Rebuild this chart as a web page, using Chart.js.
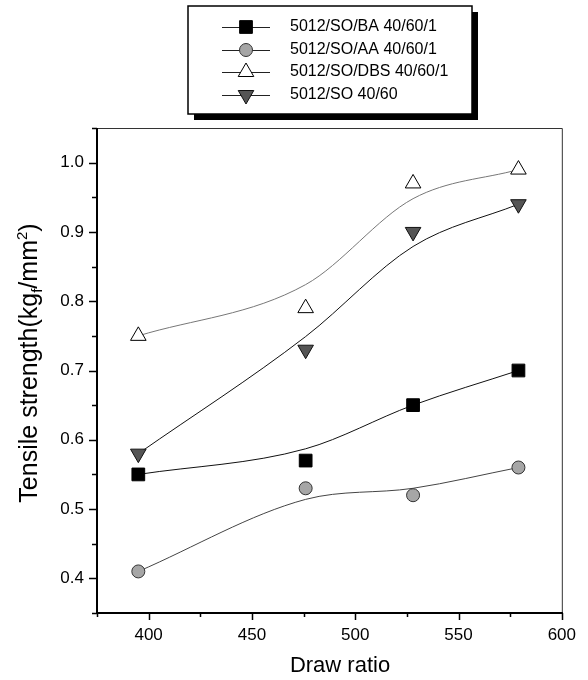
<!DOCTYPE html>
<html>
<head>
<meta charset="utf-8">
<script src="https://cdn.jsdelivr.net/npm/chart.js@4/dist/chart.umd.min.js"></script>
<style>
  html, body { margin: 0; padding: 0; background: #fff; }
  #wrap { width: 588px; height: 680px; position: relative; }
</style>
</head>
<body>
<div id="wrap"><canvas id="chart"></canvas></div>
<script>
// draw ratio of the four samples
const drawRatio = [395, 476, 528, 579];

// measured tensile strength (kgf/mm2)
const baValues  = [0.55, 0.57, 0.65, 0.70];
const aaValues  = [0.41, 0.53, 0.52, 0.56];
const dbsValues = [0.75, 0.79, 0.97, 0.99];
const soValues  = [0.58, 0.73, 0.90, 0.94];

// fitted curves at the same draw ratios
const baFit  = [0.55, 0.587, 0.65, 0.70];
const aaFit  = [0.41, 0.514, 0.53, 0.56];
const dbsFit = [0.75, 0.824, 0.948, 0.99];
const soFit  = [0.58, 0.749, 0.879, 0.94];

const seriesLabels = ['5012/SO/BA 40/60/1', '5012/SO/AA 40/60/1', '5012/SO/DBS 40/60/1', '5012/SO 40/60'];
const xTickLabels = [400, 450, 500, 550, 600];
const yTickLabels = [0.4, 0.5, 0.6, 0.7, 0.8, 0.9, 1.0];

const FONT = '"Liberation Sans", Arial, sans-serif';

const toPts = (ys) => drawRatio.map((x, i) => ({ x: x, y: ys[i] }));

const markers = [
    { style: 'rect',     rot: 0,   r: 9,   fill: '#000000', stroke: '#000000' },
    { style: 'circle',   rot: 0,   r: 6.5, fill: '#a6a6a6', stroke: '#333333' },
    { style: 'triangle', rot: 0,   r: 9,   fill: '#ffffff', stroke: '#000000' },
    { style: 'triangle', rot: 180, r: 9,   fill: '#555555', stroke: '#111111' }
];
const fitColors = ['#111111', '#444444', '#777777', '#111111'];
const values = [baValues, aaValues, dbsValues, soValues];
const fits = [baFit, aaFit, dbsFit, soFit];

let datasets = [];
values.forEach((v, i) => {
    const m = markers[i];
    datasets.push({
        label: seriesLabels[i],
        data: toPts(v),
        showLine: false,
        pointStyle: m.style,
        rotation: m.rot,
        pointRadius: m.r,
        pointBackgroundColor: m.fill,
        pointBorderColor: m.stroke,
        pointBorderWidth: 1,
        order: 0
    });
});
fits.forEach((f, i) => {
    datasets.push({
        label: seriesLabels[i] + ' fit',
        data: toPts(f),
        showLine: true,
        pointRadius: 0,
        borderColor: fitColors[i],
        borderWidth: 1,
        cubicInterpolationMode: 'monotone',
        order: 1
    });
});

function drawMarker(ctx, m, x, y) {
    ctx.save();
    ctx.fillStyle = m.fill;
    ctx.strokeStyle = m.stroke;
    ctx.lineWidth = 1;
    ctx.beginPath();
    if (m.style === 'rect') {
        const s = Math.SQRT1_2 * m.r;
        ctx.rect(x - s, y - s, 2 * s, 2 * s);
    } else if (m.style === 'circle') {
        ctx.arc(x, y, m.r, 0, Math.PI * 2);
    } else {
        let rad = m.rot * Math.PI / 180;
        for (let k = 0; k < 3; k++) {
            const px = x + Math.sin(rad) * m.r, py = y - Math.cos(rad) * m.r;
            if (k === 0) ctx.moveTo(px, py); else ctx.lineTo(px, py);
            rad += 2 * Math.PI / 3;
        }
        ctx.closePath();
    }
    ctx.fill();
    ctx.stroke();
    ctx.restore();
}

const decorPlugin = {
    id: 'decor',
    afterDraw(chart) {
        const ctx = chart.ctx;
        const a = chart.chartArea;
        const xs = chart.scales.x, ys = chart.scales.y;

        // frame
        ctx.save();
        ctx.strokeStyle = '#333';
        ctx.lineWidth = 1;
        ctx.beginPath();
        ctx.moveTo(a.left, a.top + 0.5); ctx.lineTo(a.right + 0.5, a.top + 0.5); ctx.lineTo(a.right + 0.5, a.bottom);
        ctx.stroke();
        ctx.strokeStyle = '#000';
        ctx.lineWidth = 2;
        ctx.beginPath();
        ctx.moveTo(a.left, a.top); ctx.lineTo(a.left, a.bottom); ctx.lineTo(a.right + 1, a.bottom);
        ctx.stroke();

        // ticks
        ctx.lineWidth = 1.5;
        ctx.beginPath();
        xs.ticks.forEach(t => {
            const px = Math.round(xs.getPixelForValue(t.value)) + 0.5;
            const len = (Math.round(t.value) % 50 === 0) ? 7 : 4;
            ctx.moveTo(px, a.bottom); ctx.lineTo(px, a.bottom + len);
        });
        ys.ticks.forEach(t => {
            const py = Math.round(ys.getPixelForValue(t.value)) + 0.5;
            const len = (Math.round(t.value * 100) % 10 === 0) ? 8 : 5;
            ctx.moveTo(a.left, py); ctx.lineTo(a.left - len, py);
        });
        ctx.stroke();

        // axis titles
        ctx.fillStyle = '#000';
        ctx.font = '22px ' + FONT;
        ctx.textAlign = 'center';
        ctx.textBaseline = 'middle';
        ctx.fillText('Draw ratio', 340, 666);

        const parts = [
            { t: 'Tensile strength(kg', s: 25, dy: 0 },
            { t: 'f', s: 15, dy: 5 },
            { t: '/mm', s: 25, dy: 0 },
            { t: '2', s: 15, dy: -10 },
            { t: ')', s: 25, dy: 0 }
        ];
        let total = 0;
        parts.forEach(p => { ctx.font = p.s + 'px ' + FONT; p.w = ctx.measureText(p.t).width; total += p.w; });
        ctx.translate(37, 363);
        ctx.rotate(-Math.PI / 2);
        ctx.textAlign = 'left';
        ctx.textBaseline = 'alphabetic';
        let cx = -total / 2;
        parts.forEach(p => {
            ctx.font = p.s + 'px ' + FONT;
            ctx.fillText(p.t, cx, p.dy);
            cx += p.w;
        });
        ctx.restore();

        // legend box with shadow
        const L = { left: 188, top: 6, w: 284, h: 108, sh: 6 };
        const rowY = [27, 50, 72, 95];
        ctx.save();
        ctx.fillStyle = '#000';
        ctx.fillRect(L.left + L.sh, L.top + L.sh, L.w, L.h);
        ctx.fillStyle = '#fff';
        ctx.fillRect(L.left, L.top, L.w, L.h);
        ctx.strokeStyle = '#000';
        ctx.lineWidth = 1.5;
        ctx.strokeRect(L.left, L.top, L.w, L.h);
        ctx.font = '16px ' + FONT;
        ctx.textBaseline = 'middle';
        ctx.textAlign = 'left';
        seriesLabels.forEach((lab, i) => {
            const y = rowY[i];
            ctx.strokeStyle = '#222';
            ctx.lineWidth = 1;
            ctx.beginPath();
            ctx.moveTo(222, y + 0.5); ctx.lineTo(270, y + 0.5);
            ctx.stroke();
            drawMarker(ctx, markers[i], 246, y);
            ctx.fillStyle = '#000';
            ctx.fillText(lab, 290, y);
        });
        ctx.restore();
    }
};

new Chart(document.getElementById('chart').getContext('2d'), {
    type: 'scatter',
    data: { datasets: datasets },
    options: {
        responsive: true,
        maintainAspectRatio: false,
        animation: false,
        layout: { padding: { top: 128, right: 23, left: 0, bottom: 0 } },
        plugins: { legend: { display: false }, tooltip: { enabled: false } },
        scales: {
            x: {
                type: 'linear',
                min: 375, max: 600,
                afterFit: (s) => { s.height = 67; },
                grid: { display: false, drawTicks: false },
                border: { display: false },
                ticks: {
                    stepSize: 25,
                    autoSkip: false,
                    maxRotation: 0,
                    padding: 12,
                    color: '#000',
                    font: { family: FONT, size: 17 },
                    callback: (v) => xTickLabels.includes(Math.round(v)) ? String(Math.round(v)) : ''
                }
            },
            y: {
                type: 'linear',
                min: 0.35, max: 1.05,
                afterFit: (s) => { s.width = 97; },
                grid: { display: false, drawTicks: false },
                border: { display: false },
                ticks: {
                    stepSize: 0.05,
                    autoSkip: false,
                    padding: 13,
                    color: '#000',
                    font: { family: FONT, size: 17 },
                    callback: (v) => {
                        const k = Math.round(v * 100);
                        return yTickLabels.some(t => Math.round(t * 100) === k) ? (k / 100).toFixed(1) : '';
                    }
                }
            }
        }
    },
    plugins: [decorPlugin]
});
</script>
</body>
</html>
